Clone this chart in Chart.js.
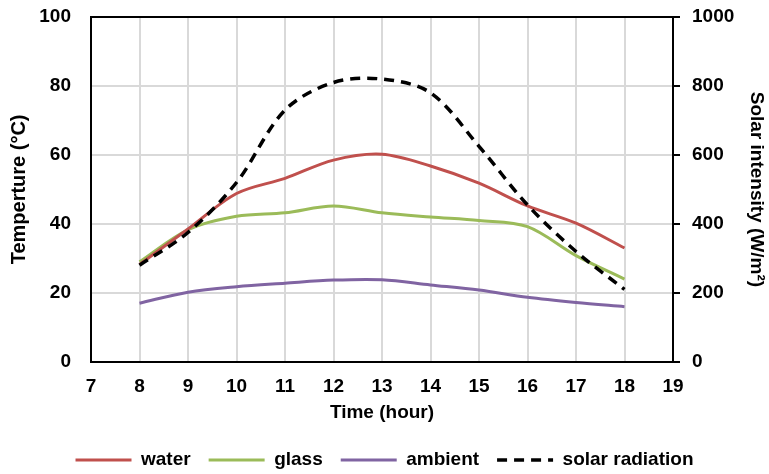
<!DOCTYPE html>
<html>
<head>
<meta charset="utf-8">
<script src="https://cdn.jsdelivr.net/npm/chart.js@4/dist/chart.umd.min.js"></script>
<style>
  html, body { margin: 0; padding: 0; background: #fff; }
  #wrap { width: 769px; height: 474px; position: relative; }
</style>
</head>
<body>
<div id="wrap"><canvas id="c"></canvas></div>
<script>
// ---- data ----
const hours = [8, 9, 10, 11, 12, 13, 14, 15, 16, 17, 18];
const water = [28.2, 38.5, 48.8, 53.2, 58.5, 60.2, 56.8, 51.8, 45.2, 40.2, 33.0];
const glass = [29.0, 38.3, 42.2, 43.2, 45.2, 43.2, 42.0, 41.0, 39.2, 30.8, 24.0];
const ambient = [17.0, 20.2, 21.8, 22.8, 23.7, 23.8, 22.3, 20.8, 18.7, 17.2, 16.0];
const solar = [280, 375, 520, 730, 810, 820, 780, 625, 455, 320, 210];
const seriesNames = ['water', 'glass', 'ambient', 'solar radiation'];
const xTicks = [7, 8, 9, 10, 11, 12, 13, 14, 15, 16, 17, 18, 19];
const yLeftTicks = [0, 20, 40, 60, 80, 100];
const yRightTicks = [0, 200, 400, 600, 800, 1000];

const pts = arr => hours.map((h, i) => ({ x: h, y: arr[i] }));
const FONT = "'Liberation Sans', Arial, sans-serif";
const GRID = '#d9d9d9';
const noPad = s => { s.paddingTop = 0; s.paddingBottom = 0; s.paddingLeft = 0; s.paddingRight = 0; };

new Chart(document.getElementById('c'), {
  type: 'line',
  data: {
    datasets: [
      { label: seriesNames[0], data: pts(water), borderColor: '#C0504D', backgroundColor: '#C0504D', borderWidth: 3, yAxisID: 'y', order: 1 },
      { label: seriesNames[1], data: pts(glass), borderColor: '#9BBB59', backgroundColor: '#9BBB59', borderWidth: 3, yAxisID: 'y', order: 1 },
      { label: seriesNames[2], data: pts(ambient), borderColor: '#8064A2', backgroundColor: '#8064A2', borderWidth: 3, yAxisID: 'y', order: 1 },
      { label: seriesNames[3], data: pts(solar), borderColor: '#000000', backgroundColor: '#000000', borderWidth: 3.5, borderDash: [10, 7], yAxisID: 'y2', order: 0 }
    ]
  },
  options: {
    responsive: true,
    maintainAspectRatio: false,
    animation: false,
    layout: { padding: { top: 17, left: 0, right: 0, bottom: -5.4 } },
    elements: {
      point: { radius: 0, hoverRadius: 0 },
      line: { tension: 0.33, fill: false, capBezierPoints: true }
    },
    plugins: {
      tooltip: { enabled: false },
      legend: {
        position: 'bottom',
        labels: {
          color: '#000',
          font: { family: FONT, size: 19, weight: 'bold' },
          boxWidth: 56,
          boxHeight: 0,
          padding: 18,
          generateLabels(chart) {
            return chart.data.datasets.map((ds, i) => ({
              text: ds.label,
              fillStyle: 'rgba(0,0,0,0)',
              strokeStyle: ds.borderColor,
              lineWidth: ds.borderWidth,
              lineDash: ds.borderDash || [],
              lineCap: 'butt',
              fontColor: '#000',
              hidden: false,
              datasetIndex: i
            }));
          }
        }
      }
    },
    scales: {
      x: {
        type: 'linear',
        min: xTicks[0],
        max: xTicks[xTicks.length - 1],
        afterBuildTicks(scale) { scale.ticks = xTicks.map(v => ({ value: v })); },
        afterFit(scale) { scale.height = 70.6; noPad(scale); },
        grid: { color: GRID, lineWidth: 2, drawTicks: false },
        border: { color: '#000', width: 2 },
        ticks: { color: '#000', padding: 14, font: { family: FONT, size: 19, weight: 'bold' } },
        title: { display: true, text: 'Time (hour)', color: '#000', padding: { top: 0, bottom: 8 }, font: { family: FONT, size: 19, weight: 'bold' } }
      },
      y: {
        position: 'left',
        min: 0,
        max: 100,
        afterBuildTicks(scale) { scale.ticks = yLeftTicks.map(v => ({ value: v })); },
        afterFit(scale) { scale.width = 91; noPad(scale); },
        grid: { color: c => (c.tick && c.tick.value === 100 ? '#000' : GRID), lineWidth: 2, drawTicks: false },
        border: { color: '#000', width: 2 },
        ticks: { color: '#000', padding: 20, font: { family: FONT, size: 19, weight: 'bold' } },
        title: { display: true, text: 'Temperture (°C)', color: '#000', padding: { top: 7, bottom: 0 }, font: { family: FONT, size: 20, weight: 'bold' } }
      },
      y2: {
        position: 'right',
        min: 0,
        max: 1000,
        afterBuildTicks(scale) { scale.ticks = yRightTicks.map(v => ({ value: v })); },
        afterFit(scale) { scale.width = 96; noPad(scale); },
        grid: { drawOnChartArea: false, drawTicks: true, tickLength: 7, color: '#000', lineWidth: 2 },
        border: { color: '#000', width: 2 },
        ticks: { color: '#000', padding: 12, font: { family: FONT, size: 19, weight: 'bold' }, callback: v => String(v) },
        title: { display: true, text: 'Solar intensity (W/m²)', color: '#000', padding: { top: 1, bottom: 0 }, font: { family: FONT, size: 19, weight: 'bold' } }
      }
    }
  }
});
</script>
</body>
</html>
